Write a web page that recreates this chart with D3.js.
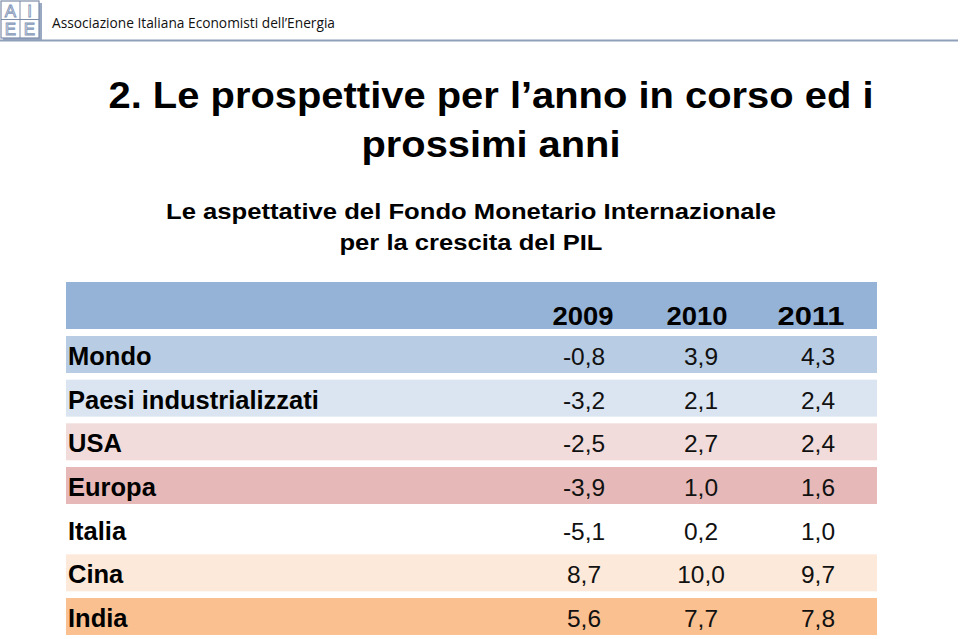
<!DOCTYPE html>
<html><head><meta charset="utf-8">
<script src="https://cdn.jsdelivr.net/npm/d3@7"></script>
<style>body{margin:0;background:#fff}svg{display:block}</style>
</head><body>
<script>
const categories = ["Mondo","Paesi industrializzati","USA","Europa","Italia","Cina","India"];
const years = ["2009","2010","2011"];
const v2009 = [-0.8,-3.2,-2.5,-3.9,-5.1,8.7,5.6];
const v2010 = [3.9,2.1,2.7,1.0,0.2,10.0,7.7];
const v2011 = [4.3,2.4,2.4,1.6,1.0,9.7,7.8];
const rowColors = ["#b8cce4","#dbe5f1","#f2dcdb","#e6b9b8","#ffffff","#fde9d9","#fac090"];
const headerColor = "#95b3d7";
const titleLines = ["2. Le prospettive per l\u2019anno in corso ed i","prossimi anni"];
const subtitleLines = ["Le aspettative del Fondo Monetario Internazionale","per la crescita del PIL"];
const orgName = "Associazione Italiana Economisti dell\u2019Energia";

const W=960,H=639;
const svg=d3.select("body").append("svg").attr("width",W).attr("height",H);
const font="'Liberation Sans', Arial, Helvetica, sans-serif";

// logo
const logo=svg.append("g");
logo.append("rect").attr("x",3).attr("y",3).attr("width",39).attr("height",38).attr("fill","#9aa9c2");
logo.append("rect").attr("x",1).attr("y",1).attr("width",38).attr("height",37).attr("fill","#fff").attr("stroke","#7d8ca8").attr("stroke-width",1.2);
logo.append("line").attr("x1",20).attr("x2",20).attr("y1",1).attr("y2",38).attr("stroke","#7d8ca8");
logo.append("line").attr("x1",1).attr("x2",39).attr("y1",19.5).attr("y2",19.5).attr("stroke","#7d8ca8");
[["A",10.5,17],["I",29.5,17],["E",10.5,35],["E",29.5,35]].forEach(([t,x,y])=>{
  logo.append("text").attr("x",x).attr("y",y).attr("text-anchor","middle")
    .attr("font-family",font).attr("font-size",17).attr("fill","#fff")
    .attr("stroke","#8296b8").attr("stroke-width",0.9).text(t);
});
svg.append("text").attr("x",52).attr("y",28).attr("font-family","'Open Sans', Lato, sans-serif")
  .attr("font-size",14).attr("fill","#111").attr("textLength",283).attr("lengthAdjust","spacingAndGlyphs").text(orgName);
svg.append("line").attr("x1",0).attr("x2",958).attr("y1",40.5).attr("y2",40.5).attr("stroke","#8fa0ba").attr("stroke-width",2);

// title
svg.selectAll("text.title").data(titleLines).join("text").attr("class","title")
  .attr("x",491).attr("y",(d,i)=>108+i*49).attr("text-anchor","middle")
  .attr("font-family",font).attr("font-weight","bold").attr("font-size",37).attr("fill","#000")
  .attr("textLength",(d,i)=>i===0?765:259).attr("lengthAdjust","spacingAndGlyphs").text(d=>d);
svg.selectAll("text.sub").data(subtitleLines).join("text").attr("class","sub")
  .attr("x",471).attr("y",(d,i)=>219+i*31).attr("text-anchor","middle")
  .attr("font-family",font).attr("font-weight","bold").attr("font-size",22.5).attr("fill","#000")
  .attr("textLength",(d,i)=>i===0?610:263).attr("lengthAdjust","spacingAndGlyphs").text(d=>d);

// table
const tableX0=66, tableX1=877;
const y=d3.scaleBand().domain(categories).range([336,635]).paddingInner(0.153).paddingOuter(0);
const xHead=d3.scalePoint().domain(years).range([583,811]);
const xVal=d3.scalePoint().domain(years).range([584,818]);
const loc=d3.formatLocale({decimal:",",thousands:".",grouping:[3],currency:["","€"],minus:"-"});
const fmt=loc.format(".1f");

svg.append("rect").attr("x",tableX0).attr("y",282).attr("width",tableX1-tableX0).attr("height",47).attr("fill",headerColor);
svg.selectAll("text.yr").data(years).join("text").attr("class","yr")
  .attr("x",d=>xHead(d)).attr("y",325).attr("text-anchor","middle")
  .attr("font-family",font).attr("font-weight","bold").attr("font-size",26).attr("fill","#000")
  .attr("textLength",d=>d==="2011"?67:61).attr("lengthAdjust","spacingAndGlyphs").text(d=>d);

const rows=categories.map((c,i)=>({c,color:rowColors[i],vals:[v2009[i],v2010[i],v2011[i]]}));
const g=svg.selectAll("g.row").data(rows).join("g").attr("class","row");
g.append("rect").attr("x",tableX0).attr("y",d=>y(d.c)).attr("width",tableX1-tableX0).attr("height",y.bandwidth()).attr("fill",d=>d.color);
g.append("text").attr("x",68).attr("y",d=>y(d.c)+29).attr("font-family",font).attr("font-weight","bold")
  .attr("font-size",25.5).attr("fill","#000").text(d=>d.c);
g.selectAll("text.v").data(d=>d.vals.map((v,j)=>({v,yr:years[j],c:d.c}))).join("text").attr("class","v")
  .attr("x",d=>xVal(d.yr)).attr("y",d=>y(d.c)+29).attr("text-anchor","middle")
  .attr("font-family",font).attr("font-size",24.5).attr("fill","#111").text(d=>fmt(d.v));
</script>
</body></html>
